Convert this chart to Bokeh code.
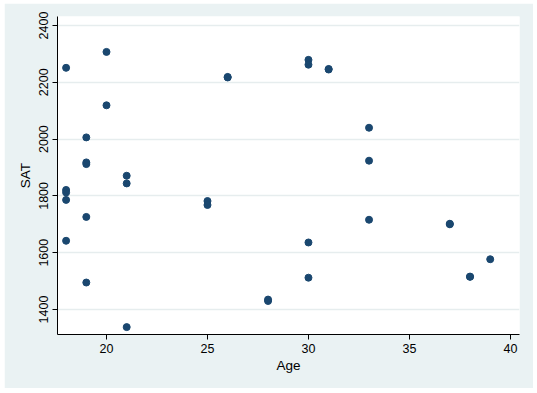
from bokeh.plotting import figure
from bokeh.models import FixedTicker, Range1d
from bokeh.embed import file_html
from bokeh.resources import INLINE

# Data
age = [18, 20, 20, 19, 19, 19, 21, 21, 18, 18, 18, 19, 18, 19, 21,
       26, 26, 30, 30, 31, 31, 33, 33, 25, 25, 28, 28, 30, 30, 33,
       37, 37, 38, 38, 39]
sat = [2251, 2307, 2119, 2006, 1912, 1918, 1871, 1844, 1821, 1812, 1786, 1726, 1642, 1495, 1338,
       2219, 2217, 2279, 2262, 2247, 2245, 2040, 1924, 1782, 1768, 1430, 1435, 1636, 1512, 1716,
       1700, 1702, 1515, 1516, 1577]
x_ticks = [20, 25, 30, 35, 40]
y_ticks = [1400, 1600, 1800, 2000, 2200, 2400]

BG = "#EAF2F3"
MARK = "#1A476F"
FONT = "Liberation Sans"

p = figure(width=529, height=385, output_backend="svg", toolbar_location=None,
           x_range=Range1d(17.574, 40.45), y_range=Range1d(1312, 2431.7),
           min_border_left=53, min_border_right=14, min_border_top=13, min_border_bottom=54)
p.margin = (3, 0, 0, 4)
p.background_fill_color = "white"
p.border_fill_color = BG
p.outline_line_color = None

p.scatter(age, sat, size=7, color=MARK, line_color=MARK)

p.xgrid.visible = False
p.ygrid.grid_line_color = "#E6EDEE"
p.ygrid.grid_line_width = 1.5
p.ygrid.ticker = FixedTicker(ticks=y_ticks)

p.xaxis.ticker = FixedTicker(ticks=x_ticks)
p.yaxis.ticker = FixedTicker(ticks=y_ticks)
p.xaxis.axis_label = "Age"
p.yaxis.axis_label = "SAT"
p.yaxis.major_label_orientation = "vertical"

for ax in (p.xaxis[0], p.yaxis[0]):
    ax.axis_line_color = "black"
    ax.axis_line_width = 1
    ax.major_tick_line_color = "black"
    ax.major_tick_out = 5
    ax.major_tick_in = 0
    ax.minor_tick_line_color = None
    ax.major_label_text_font = FONT
    ax.major_label_text_font_size = "12.5px"
    ax.major_label_text_color = "black"
    ax.axis_label_text_font = FONT
    ax.axis_label_text_font_size = "13.5px"
    ax.axis_label_text_font_style = "normal"
    ax.axis_label_text_color = "black"
    ax.major_label_standoff = 4
    ax.axis_label_standoff = 2
p.yaxis.axis_label_standoff = 4

open("out.html", "w").write(file_html(p, INLINE))
